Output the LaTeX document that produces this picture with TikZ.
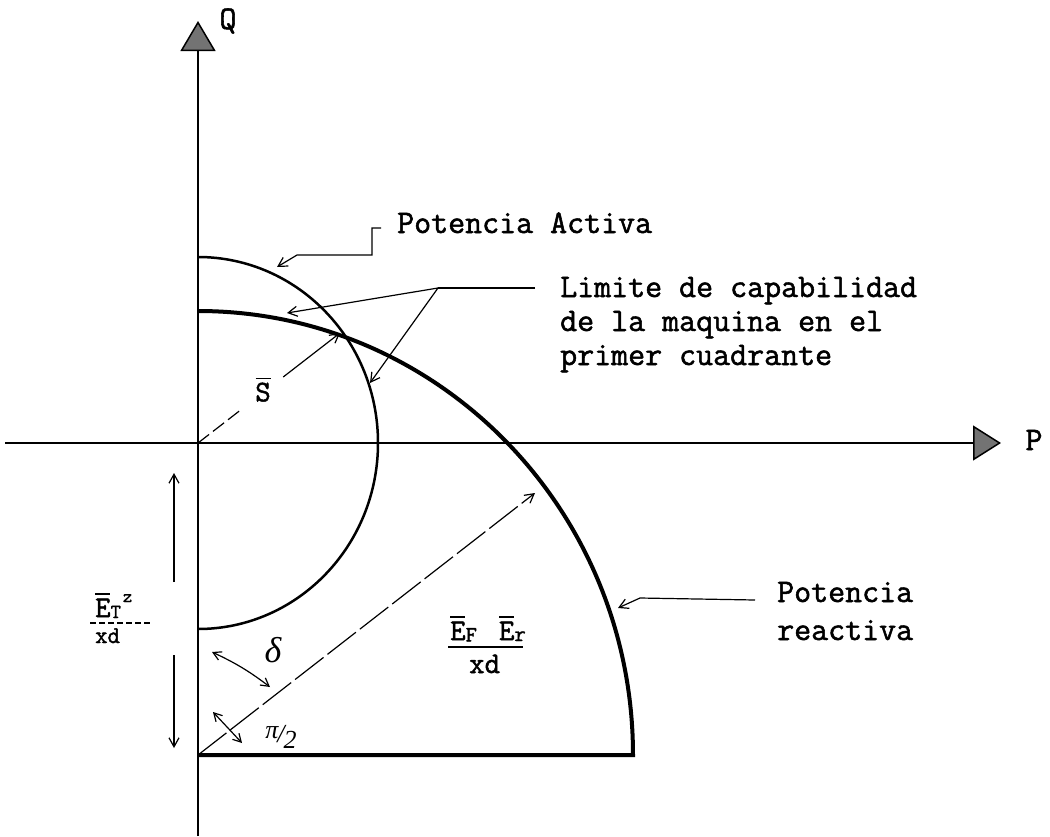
\documentclass[tikz,border=0pt]{standalone}
\usepackage{fontspec}
\newfontfamily\tw[FakeBold=1.6]{Latin Modern Mono}
\newfontfamily\grk{Liberation Serif}
\usetikzlibrary{arrows.meta,calc}
\newcommand{\barover}[1]{\ooalign{#1\cr\hidewidth\raisebox{0.74em}{\rule{0.5em}{1.6pt}}\hidewidth\cr}}
\begin{document}
\begin{tikzpicture}[x=1pt,y=-1pt,
  axis/.style={line width=1.5pt},
  leader/.style={line width=1.2pt},
  tipend/.style={-{Straight Barb[length=9pt,width=10pt]}},
  dtip/.style={{Straight Barb[length=8pt,width=9pt]}-{Straight Barb[length=8pt,width=9pt]}},
  lbl/.style={font=\tw\fontsize{33}{34}\selectfont, inner sep=0pt},
  small/.style={font=\tw\fontsize{30}{30}\selectfont, inner sep=0pt},
  axtip/.style={-{Triangle[length=#1,width=35pt,fill=black!55]}},
  ]
\useasboundingbox (0,0) rectangle (1050,836);

% ---- key points
\coordinate (O) at (198,443);
\coordinate (C) at (198,755);
\coordinate (Qtop) at (198,21);
\coordinate (Qbot) at (198,836);
\coordinate (Pleft) at (5,443);
\coordinate (Pright) at (1001,443);
\coordinate (X) at (340,333);
\coordinate (R) at (535,493);

% ---- axes
\draw[axis,axtip=30pt] (Qbot) -- (Qtop);
\draw[axis,axtip=28pt] (Pleft) -- (Pright);
\node[lbl] (Q) at (228,21) {Q};
\node[lbl] (P) at (1034,440) {P};

% ---- small circle (Potencia activa)
\draw[line width=2.5pt] (198,257) arc[start angle=90,end angle=-90,x radius=180pt,y radius=186pt];

% ---- capability limit (big arc + base)
\draw[line width=4pt,line join=miter] (198,311) arc[start angle=90,end angle=0,x radius=435pt,y radius=444pt] -- (C);

% ---- radius Ef Er / xd
\draw[leader,dash pattern=on 36pt off 5pt,tipend] (C) -- (R);

% ---- S
\node[small] (S) at (263,392) {\barover{S}};
\draw[leader,dash pattern=on 14pt off 5pt] (O) -- ($(O)!0.29!(X)$);
\draw[leader,tipend] ($(O)!0.6!(X)$) -- (X);

% ---- Potencia Activa
\node[lbl,anchor=base west] (PA) at (397,233) {Potencia Activa};
\coordinate (pa1) at (381,228);
\coordinate (pa2) at (372,228);
\coordinate (pa3) at (372,255);
\coordinate (pa4) at (297,255);
\coordinate (pa5) at (277,267);
\draw[leader,tipend] (pa1) -- (pa2) -- (pa3) -- (pa4) -- (pa5);

% ---- Limite de capabilidad (base = last line)
\node[lbl,anchor=base west,align=left] (LC) at (560,365) {Limite de capabilidad\\de la maquina en el\\primer cuadrante};
\coordinate (lc0) at (535,288);
\coordinate (lc1) at (438,288);
\coordinate (lcA) at (287,313);
\coordinate (lcB) at (370,383);
\draw[leader] (lc0) -- (lc1);
\draw[leader,tipend] (lc1) -- (lcA);
\draw[leader,tipend] (lc1) -- (lcB);

% ---- Potencia reactiva (base = last line)
\node[lbl,anchor=base west,align=left,font=\tw\fontsize{33}{38}\selectfont] (PR) at (777,640) {Potencia\\reactiva};
\coordinate (pr0) at (755,600);
\coordinate (pr1) at (640,598);
\coordinate (pr2) at (618,608);
\draw[leader,tipend] (pr0) -- (pr1) -- (pr2);

% ---- Ef Er / xd
\node[small,anchor=base west] (EFR) at (450,640) {\barover{E}\raisebox{-1.5pt}{\fontsize{22}{22}\selectfont F}\hspace{22pt}\barover{E}\raisebox{-1pt}{\fontsize{22}{22}\selectfont r}};
\draw[leader] (448,647) -- (523,647);
\node[small,anchor=base west] (XD1) at (469,673) {xd};

% ---- Et^2 / xd
\node[small,anchor=base west] (ET) at (95,617) {\barover{E}\raisebox{-1pt}{\fontsize{20}{20}\selectfont T}\kern2pt\raisebox{15pt}{\fontsize{18}{18}\selectfont z}};
\draw[leader,dash pattern=on 6pt off 3pt] (90,623) -- (150,623);
\node[inner sep=0pt,font=\tw\fontsize{24}{24}\selectfont,anchor=base west] (XD2) at (95,643) {xd};
\coordinate (d1) at (174,473);
\coordinate (d2) at (174,582);
\coordinate (d3) at (174,655);
\coordinate (d4) at (174,748);
\draw[leader,tipend] (d2) -- (d1);
\draw[leader,tipend] (d3) -- (d4);

% ---- delta
\node[inner sep=0pt,font=\grk\itshape\fontsize{36}{36}\selectfont] (DL) at (273,650) {δ};
\coordinate (dA) at (212,652);
\coordinate (dB) at (270,687);
\draw[leader,dtip] (dA) to[bend left=6] (dB);

% ---- pi/2
\node[inner sep=0pt,font=\grk\itshape\fontsize{26}{26}\selectfont] (PI) at (281,737) {\raisebox{4pt}{π}\kern-1pt/\kern-1pt\raisebox{-6pt}{2}};
\coordinate (pA) at (213,712);
\coordinate (pB) at (242,743);
\draw[leader,dtip] (pA) -- (pB);
\end{tikzpicture}
\end{document}
